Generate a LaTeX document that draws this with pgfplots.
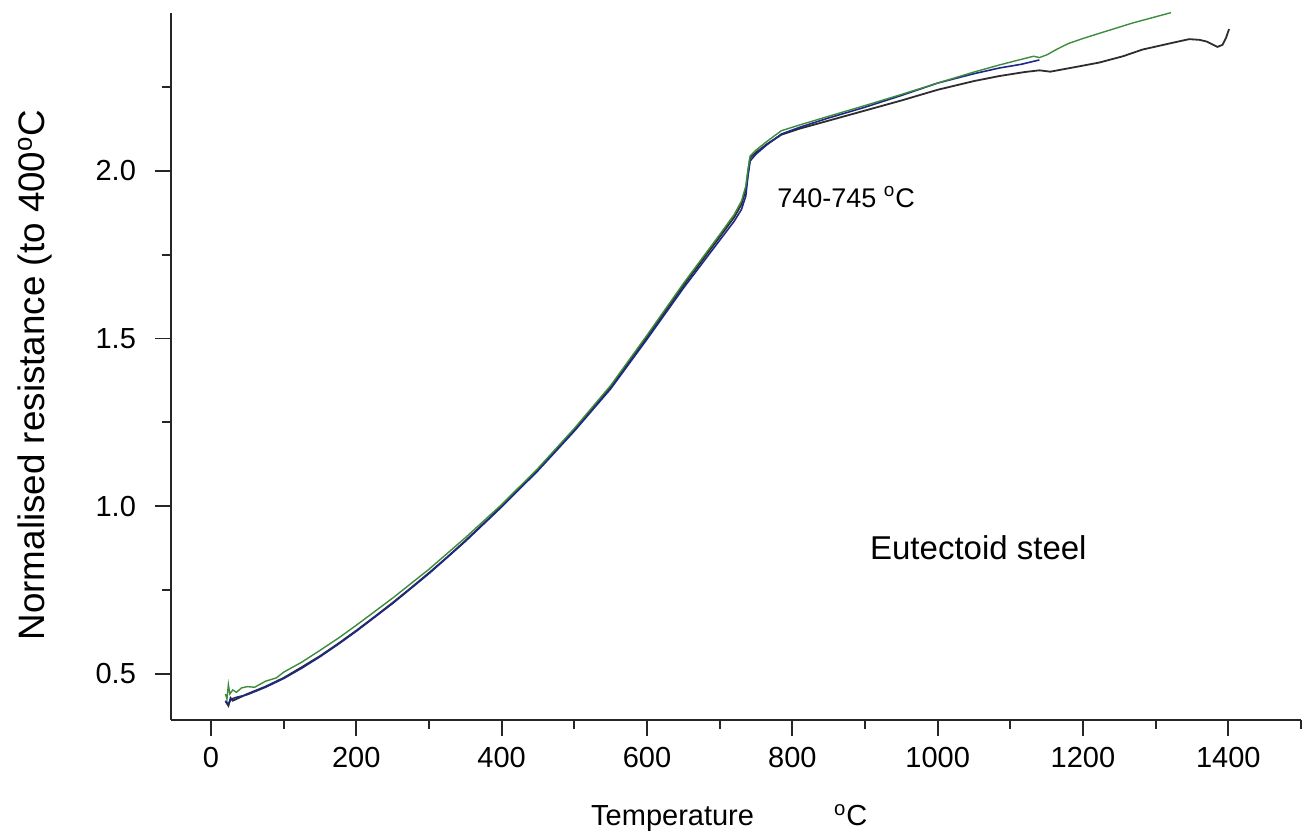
\documentclass[border=0pt]{standalone}
\usepackage{pgfplots}
\pgfplotsset{compat=1.18}
\usepackage{fontspec}
\setmainfont{Liberation Sans}

% resistance traces, normalised to the value at 400 C
\pgfplotstableread{
T R
20 0.418
24 0.405
27 0.428
30 0.420
40 0.430
50 0.440
75 0.462
100 0.488
125 0.520
150 0.553
175 0.590
200 0.629
225 0.670
250 0.712
275 0.756
300 0.801
325 0.848
350 0.897
375 0.948
400 1.000
450 1.110
500 1.228
550 1.355
600 1.505
650 1.658
700 1.803
720 1.862
730 1.900
736 1.945
739 1.995
742 2.040
750 2.055
765 2.080
785 2.108
810 2.126
850 2.150
900 2.180
950 2.210
1000 2.242
1050 2.268
1085 2.283
1120 2.295
1140 2.300
1155 2.296
1180 2.306
1222 2.323
1255 2.342
1282 2.362
1323 2.382
1346 2.393
1360 2.391
1370 2.386
1385 2.370
1392 2.376
1397 2.398
1401 2.423
}\blacktrace

\pgfplotstableread{
T R
20 0.420
24 0.410
28 0.425
35 0.430
50 0.438
75 0.460
100 0.486
125 0.517
150 0.551
175 0.588
200 0.627
250 0.710
300 0.799
350 0.895
400 0.998
450 1.106
500 1.224
550 1.350
600 1.498
650 1.650
700 1.793
720 1.850
730 1.885
736 1.925
739 1.985
742 2.030
750 2.050
765 2.078
785 2.110
810 2.130
850 2.158
900 2.190
950 2.225
1000 2.262
1050 2.290
1085 2.307
1115 2.318
1140 2.331
}\bluetrace

\pgfplotstableread{
T R
20 0.440
22 0.425
24 0.468
26 0.440
30 0.452
35 0.445
42 0.458
50 0.462
60 0.460
75 0.478
90 0.488
100 0.505
125 0.535
150 0.570
175 0.606
200 0.645
250 0.726
300 0.812
350 0.906
400 1.005
450 1.113
500 1.232
550 1.360
600 1.510
650 1.664
700 1.810
720 1.870
730 1.910
736 1.955
739 2.005
742 2.045
750 2.062
765 2.088
785 2.120
810 2.137
850 2.163
900 2.195
950 2.228
1000 2.262
1050 2.295
1085 2.316
1110 2.330
1132 2.342
1140 2.338
1150 2.346
1165 2.364
1180 2.380
1200 2.395
1222 2.410
1268 2.441
1321 2.472
}\greentrace

\definecolor{trblack}{RGB}{45,45,45}
\definecolor{trblue}{RGB}{30,40,140}
\definecolor{trgreen}{RGB}{60,140,60}

\begin{document}
\begin{tikzpicture}[x=1pt,y=1pt]
\path[use as bounding box] (-85.5,-60) rectangle (568,360);
\begin{axis}[
  at={(0,0)}, anchor=south west,
  scale only axis,
  width=565pt, height=353.5pt,
  xmin=-55, xmax=1500,
  ymin=0.3624, ymax=2.471,
  axis x line=bottom, axis y line=left,
  axis line style={-, line width=1pt, black!85},
  xtick={0,200,...,1400},
  minor xtick={100,300,...,1500},
  ytick={0.5,1.0,1.5,2.0},
  minor ytick={0.75,1.25,1.75,2.25},
  tick align=outside,
  major tick length=8pt, minor tick length=4.5pt,
  every tick/.style={black!85, line width=0.9pt},
  x tick label style={/pgf/number format/1000 sep={}, yshift=-2pt},
  y tick label style={/pgf/number format/fixed, /pgf/number format/fixed zerofill, /pgf/number format/precision=1, xshift=-6pt},
  /pgf/number format/assume math mode=true,
  ticklabel style={font=\fontsize{14.5}{17}\selectfont},
  scaled ticks=false,
  clip=false,
]
\addplot[trblack, line width=0.9pt] table {\blacktrace};
\addplot[trblue, line width=0.8pt] table {\bluetrace};
\addplot[trgreen, line width=0.7pt] table {\greentrace};

\node[font=\fontsize{13.5}{16}\selectfont] at (axis cs:874,1.922) {740-745 \textsuperscript{o}C};
\node[font=\fontsize{16.5}{19}\selectfont] at (axis cs:1056,0.876) {Eutectoid steel};
\node[font=\fontsize{14.5}{18}\selectfont] at (rel axis cs:0.494,0) [yshift=-49pt] {Temperature\hspace{40pt}\textsuperscript{o}C};
\node[font=\fontsize{18.4}{21}\selectfont, xshift=-68pt, rotate=90] at (rel axis cs:0,0.488) {Normalised resistance (to 400\textsuperscript{o}C};
\end{axis}
\end{tikzpicture}
\end{document}
